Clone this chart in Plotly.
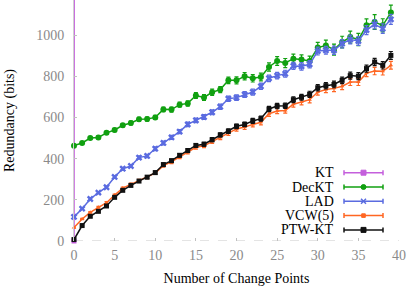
import plotly.graph_objects as go

x_vals = list(range(40))

kt_x = [0, 1]
kt_y = [0, 60000]

deckt = [463, 476, 500, 503, 525, 539, 562, 573, 591, 592,
         600, 639, 638, 662, 668, 706, 697, 722, 735, 780,
         780, 800, 790, 796, 845, 874, 864, 885, 881, 874,
         939, 949, 929, 966, 990, 978, 1047, 1063, 1047, 1109]
deckt_err = [5, 5, 6, 6, 7, 8, 8, 9, 9, 10,
             10, 11, 12, 12, 13, 14, 14, 15, 15, 16,
             17, 18, 18, 19, 20, 21, 22, 22, 23, 24,
             25, 26, 27, 28, 29, 30, 31, 36, 32, 36]

lad = [117, 157, 204, 235, 261, 311, 351, 364, 405, 413,
       448, 476, 503, 531, 566, 586, 602, 625, 652, 691,
       696, 711, 723, 751, 790, 803, 812, 850, 848, 858,
       922, 926, 926, 958, 978, 971, 1024, 1052, 1031, 1076]
lad_err = [4, 4, 5, 5, 6, 6, 7, 7, 8, 8,
           9, 9, 10, 10, 11, 11, 12, 12, 13, 13,
           14, 14, 15, 15, 16, 16, 17, 17, 18, 18,
           19, 19, 20, 20, 21, 21, 22, 22, 23, 24]

vcw = [65, 107, 139, 164, 186, 223, 257, 275, 293, 310,
       330, 366, 384, 408, 432, 455, 462, 484, 502, 524,
       544, 553, 566, 576, 618, 631, 634, 664, 675, 686,
       723, 735, 741, 751, 772, 772, 815, 825, 824, 853]
vcw_err = [3, 3, 4, 4, 5, 5, 5, 6, 6, 7,
           7, 7, 8, 8, 9, 9, 9, 10, 10, 11,
           11, 11, 12, 12, 13, 13, 13, 14, 14, 15,
           15, 15, 16, 16, 17, 17, 17, 18, 18, 19]

ptw = [7, 75, 120, 144, 170, 212, 246, 270, 291, 310,
       332, 371, 390, 416, 439, 464, 470, 492, 515, 533,
       557, 566, 583, 594, 641, 655, 657, 686, 698, 712,
       744, 754, 760, 780, 803, 800, 837, 869, 853, 901]
ptw_err = [3, 3, 4, 4, 5, 5, 5, 6, 6, 7,
           7, 7, 8, 8, 9, 9, 9, 10, 10, 11,
           11, 11, 12, 12, 13, 13, 13, 14, 14, 15,
           15, 15, 16, 16, 17, 17, 17, 18, 18, 19]

x_ticks = [0, 5, 10, 15, 20, 25, 30, 35, 40]
y_ticks = [0, 200, 400, 600, 800, 1000]

names = ["KT", "DecKT", "LAD", "VCW(5)", "PTW-KT"]
colors = ["#c45fdc", "#10a010", "#5a6be0", "#ff6622", "#111111"]

FONT = "Liberation Serif"
W, H = 411, 286
ML, MR, MT, MB = 74, 12, 0, 45

fig = go.Figure()

fig.add_trace(go.Scatter(x=kt_x, y=kt_y, mode="lines+markers", name=names[0],
                         line=dict(color=colors[0], width=1.5),
                         marker=dict(symbol="square", size=5, color=colors[0]),
                         cliponaxis=False))

series = [
    (deckt, deckt_err, "circle", 6),
    (lad, lad_err, "x", 6),
    (vcw, vcw_err, "triangle-up", 4),
    (ptw, ptw_err, "square", 5),
]
for i, (ys, es, sym, sz) in enumerate(series):
    c = colors[i + 1]
    fig.add_trace(go.Scatter(
        x=x_vals, y=ys, mode="lines+markers", name=names[i + 1],
        line=dict(color=c, width=1.5),
        marker=dict(symbol=sym, size=sz, color=c),
        error_y=dict(type="data", array=es, visible=True, color=c,
                     thickness=1.2, width=2),
        cliponaxis=False,
    ))

# dashed x axis baseline
fig.add_shape(type="line", xref="paper", yref="y", x0=0, x1=1, y0=0, y1=0,
              line=dict(color="#c8c8c8", width=1, dash="dash"), layer="below")

# gnuplot-style legend (text left, sample right)
pw = W - ML - MR
ph = H - MT - MB


def px2x(px):
    return (px - ML) / pw


def py2y(py):
    return (H - MB - py) / ph


row_y = [172.7, 187.0, 201.3, 215.6, 229.9]
lx0, lx1, lxm, ltext = 344, 383, 363.5, 336
for i, name in enumerate(names):
    yy = py2y(row_y[i])
    c = colors[i]
    fig.add_annotation(text=name, xref="paper", yref="paper", x=px2x(ltext), y=yy,
                       xanchor="right", yanchor="middle", showarrow=False,
                       font=dict(family=FONT, size=14, color="black"))
    fig.add_shape(type="line", xref="paper", yref="paper",
                  x0=px2x(lx0), x1=px2x(lx1), y0=yy, y1=yy,
                  line=dict(color=c, width=1.5))
    for ex in (lx0, lx1):
        fig.add_shape(type="line", xref="paper", yref="paper",
                      x0=px2x(ex), x1=px2x(ex), y0=py2y(row_y[i] - 2.5), y1=py2y(row_y[i] + 2.5),
                      line=dict(color=c, width=1.5))
    s = 2.5 if i != 3 else 1.8
    shape_type = "circle" if i == 1 else "rect"
    if i == 2:
        for d in (1, -1):
            fig.add_shape(type="line", xref="paper", yref="paper",
                          x0=px2x(lxm - 2.5), x1=px2x(lxm + 2.5),
                          y0=py2y(row_y[i] - 2.5 * d), y1=py2y(row_y[i] + 2.5 * d),
                          line=dict(color=c, width=1.5))
    else:
        fig.add_shape(type=shape_type, xref="paper", yref="paper",
                      x0=px2x(lxm - s), x1=px2x(lxm + s),
                      y0=py2y(row_y[i] + s), y1=py2y(row_y[i] - s),
                      fillcolor=c, line=dict(color=c, width=1))

fig.update_layout(
    width=W, height=H,
    margin=dict(l=ML, r=MR, t=MT, b=MB, pad=0, autoexpand=False),
    paper_bgcolor="white", plot_bgcolor="white",
    showlegend=False,
    font=dict(family=FONT, size=14, color="black"),
    xaxis=dict(range=[0, 40], tickvals=x_ticks, ticks="inside", ticklen=3,
               tickcolor="#c0c0c0", showgrid=False, zeroline=False, showline=False,
               automargin=False, ticklabelstandoff=4,
               tickfont=dict(family=FONT, size=14, color="#8a8a8a"),
               title=dict(text="Number of Change Points", standoff=14,
                          font=dict(family=FONT, size=14, color="black"))),
    yaxis=dict(range=[0, 1170], tickvals=y_ticks, ticks="inside", ticklen=3,
               tickcolor="#c0c0c0", showgrid=False, zeroline=False, showline=True,
               linecolor="#d0d0d0", linewidth=1, ticklabelstandoff=6,
               automargin=False,
               tickfont=dict(family=FONT, size=14, color="#8a8a8a"),
               title=dict(text="Redundancy (bits)", standoff=18,
                          font=dict(family=FONT, size=14, color="black"))),
)

fig.write_html("out.html",
               config={"displayModeBar": False},
               post_script="document.body.style.margin='0';document.body.style.padding='0';")
